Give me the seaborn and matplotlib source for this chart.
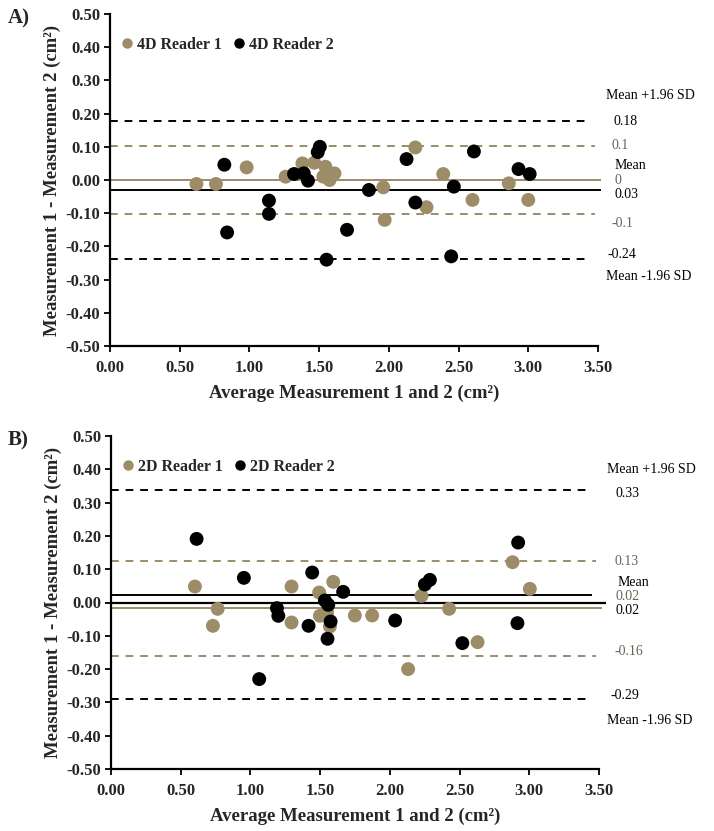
import numpy as np
import pandas as pd
import matplotlib
matplotlib.use("Agg")
import matplotlib.pyplot as plt
import seaborn as sns

# -------------------------------------------------
# Data
# -------------------------------------------------
# Panel A: 4D readers
a_r1_avg = [0.62, 0.76, 0.98, 1.26, 1.38, 1.465, 1.545, 1.53, 1.56, 1.575,
            1.61, 1.96, 1.97, 2.19, 2.27, 2.39, 2.60, 2.86, 3.00]
a_r1_diff = [-0.012, -0.012, 0.038, 0.01, 0.05, 0.052, 0.04, 0.01, 0.02, 0.0,
             0.02, -0.022, -0.12, 0.098, -0.082, 0.018, -0.06, -0.01, -0.06]
a_r2_avg = [0.82, 0.84, 1.14, 1.14, 1.32, 1.39, 1.42, 1.49, 1.505, 1.553,
            1.70, 1.857, 2.127, 2.19, 2.447, 2.466, 2.61, 2.93, 3.01]
a_r2_diff = [0.046, -0.158, -0.062, -0.102, 0.018, 0.02, -0.002, 0.084, 0.10, -0.24,
             -0.15, -0.03, 0.063, -0.068, -0.23, -0.02, 0.086, 0.033, 0.018]

# Panel B: 2D readers
b_r1_avg = [0.602, 0.731, 0.765, 1.295, 1.295, 1.493, 1.498, 1.55, 1.57, 1.594,
            1.749, 1.873, 2.131, 2.227, 2.425, 2.629, 2.88, 3.004]
b_r1_diff = [0.048, -0.07, -0.019, 0.048, -0.06, 0.03, -0.04, -0.03, -0.072, 0.062,
             -0.039, -0.039, -0.2, 0.02, -0.019, -0.119, 0.121, 0.041]
b_r2_avg = [0.614, 0.953, 1.063, 1.19, 1.20, 1.417, 1.443, 1.534, 1.558, 1.575,
            1.553, 1.665, 2.038, 2.251, 2.287, 2.52, 2.92, 2.915]
b_r2_diff = [0.191, 0.074, -0.23, -0.017, -0.04, -0.07, 0.09, 0.006, -0.007, -0.057,
             -0.109, 0.032, -0.054, 0.054, 0.068, -0.122, 0.18, -0.062]

# mean and limits of agreement (reader 1, reader 2)
a_r1_lines = {"mean": 0.0, "upper": 0.102, "lower": -0.102}
a_r2_lines = {"mean": -0.03, "upper": 0.177, "lower": -0.237}
b_r1_lines = {"mean": -0.018, "upper": 0.125, "lower": -0.162}
b_r2_lines = {"mean": 0.023, "upper": 0.338, "lower": -0.29}

x_ticks = [0.0, 0.5, 1.0, 1.5, 2.0, 2.5, 3.0, 3.5]
y_ticks = [-0.5, -0.4, -0.3, -0.2, -0.1, 0.0, 0.1, 0.2, 0.3, 0.4, 0.5]

TAN = "#9c8c68"
LBL_TAN = "#6b6453"

sns.set_theme(style="ticks")
plt.rcParams["font.family"] = ["Liberation Serif", "DejaVu Serif"]

fig = plt.figure(figsize=(7.14, 8.31), dpi=100)
ax_a = fig.add_axes([110 / 714, 1 - 346 / 831, 488 / 714, 332 / 831])
ax_b = fig.add_axes([111 / 714, 1 - 769 / 831, 488 / 714, 333 / 831])


def draw_panel(ax, r1_avg, r1_diff, r2_avg, r2_diff, r1_lines, r2_lines, names):
    df = pd.DataFrame({
        "avg": r1_avg + r2_avg,
        "diff": r1_diff + r2_diff,
        "reader": [names[0]] * len(r1_avg) + [names[1]] * len(r2_avg),
    })
    sns.scatterplot(data=df, x="avg", y="diff", hue="reader",
                    palette={names[0]: TAN, names[1]: "black"},
                    s=100, edgecolor="none", ax=ax, zorder=3)

    # limits of agreement (dashed) and means (solid)
    ax.hlines([r2_lines["upper"], r2_lines["lower"]], 0, 3.45,
              colors="black", linestyles=(0, (4, 3.5)), lw=1.4, zorder=2)
    ax.hlines([r1_lines["upper"], r1_lines["lower"]], 0, 3.48,
              colors=TAN, linestyles=(0, (4, 3.5)), lw=1.4, zorder=2)
    ax.hlines(r1_lines["mean"], 0, 3.52, colors=TAN, lw=1.4, clip_on=False, zorder=2)
    ax.hlines(r2_lines["mean"], 0, 3.45 if r2_lines["mean"] > 0 else 3.52,
              colors="black", lw=1.4, clip_on=False, zorder=2)

    ax.set_xlim(0, 3.5)
    ax.set_ylim(-0.5, 0.5)
    ax.set_xticks(x_ticks)
    ax.set_yticks(y_ticks)
    ax.set_xticklabels([f"{v:.2f}" for v in x_ticks], fontsize=12, fontweight="bold")
    ax.set_yticklabels([f"{v:.2f}" for v in y_ticks], fontsize=12, fontweight="bold")
    ax.tick_params(direction="out", length=4, width=1.3, color="black", pad=3)
    ax.tick_params(axis="x", pad=6)
    sns.despine(ax=ax)
    for side in ["left", "bottom"]:
        ax.spines[side].set_linewidth(1.6)
        ax.spines[side].set_color("black")

    ax.set_xlabel("Average Measurement 1 and 2 (cm²)", fontsize=13.5,
                  fontweight="bold", labelpad=6)
    ax.set_ylabel("Measurement 1 - Measurement 2 (cm²)", fontsize=13.5,
                  fontweight="bold", labelpad=3)

    ax.legend(loc="upper left", bbox_to_anchor=(0.0, 0.95), ncol=2, frameon=False,
              handletextpad=0.0, columnspacing=0.4, markerscale=0.75,
              handlelength=1.3, borderpad=0.2, borderaxespad=0.2,
              prop={"weight": "bold", "size": 11.5})


draw_panel(ax_a, a_r1_avg, a_r1_diff, a_r2_avg, a_r2_diff,
           a_r1_lines, a_r2_lines, ["4D Reader 1", "4D Reader 2"])
draw_panel(ax_b, b_r1_avg, b_r1_diff, b_r2_avg, b_r2_diff,
           b_r1_lines, b_r2_lines, ["2D Reader 1", "2D Reader 2"])

# zero reference line in panel B
ax_b.hlines(0, 0, 3.55, colors="black", lw=1.6, clip_on=False, zorder=2)

# right-hand annotations
txt = dict(fontsize=10, va="center", ha="left", clip_on=False)
ax_a.text(3.56, 0.255, "Mean +1.96 SD", color="black", **txt)
ax_a.text(3.61, 0.175, "0.18", color="black", **txt)
ax_a.text(3.60, 0.105, "0.1", color=LBL_TAN, **txt)
ax_a.text(3.62, 0.043, "Mean", color="black", **txt)
ax_a.text(3.62, 0.0, "0", color=LBL_TAN, **txt)
ax_a.text(3.62, -0.043, "0.03", color="black", **txt)
ax_a.text(3.60, -0.13, "-0.1", color=LBL_TAN, **txt)
ax_a.text(3.57, -0.225, "-0.24", color="black", **txt)
ax_a.text(3.56, -0.29, "Mean -1.96 SD", color="black", **txt)

ax_b.text(3.56, 0.40, "Mean +1.96 SD", color="black", **txt)
ax_b.text(3.62, 0.328, "0.33", color="black", **txt)
ax_b.text(3.61, 0.123, "0.13", color=LBL_TAN, **txt)
ax_b.text(3.63, 0.060, "Mean", color="black", **txt)
ax_b.text(3.62, 0.018, "0.02", color=LBL_TAN, **txt)
ax_b.text(3.62, -0.025, "0.02", color="black", **txt)
ax_b.text(3.61, -0.147, "-0.16", color=LBL_TAN, **txt)
ax_b.text(3.58, -0.28, "-0.29", color="black", **txt)
ax_b.text(3.56, -0.354, "Mean -1.96 SD", color="black", **txt)

# panel letters
fig.text(8 / 714, 1 - 18 / 831, "A)", fontsize=15, fontweight="bold", va="center")
fig.text(8 / 714, 1 - 440 / 831, "B)", fontsize=15, fontweight="bold", va="center")

fig.savefig("out.png", dpi=100)
